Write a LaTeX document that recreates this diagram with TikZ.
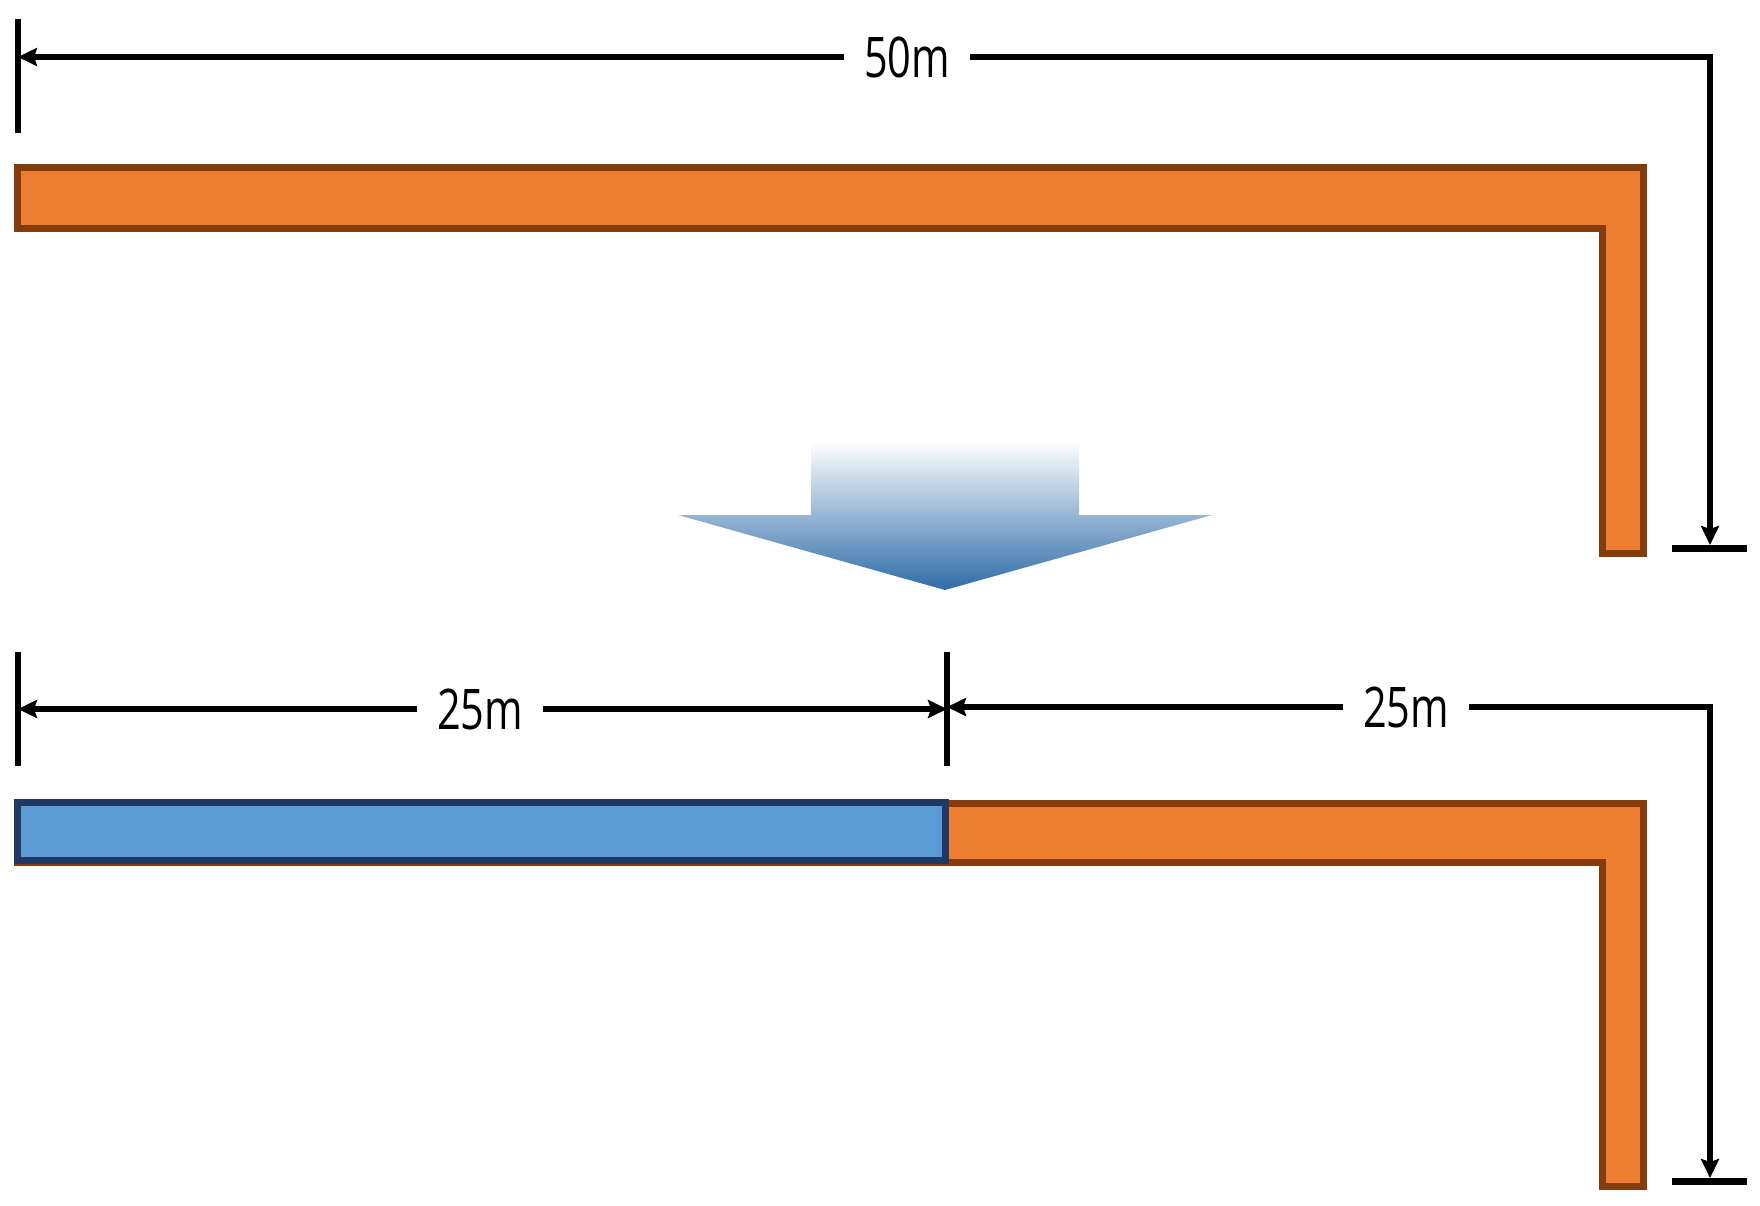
\documentclass[tikz,border=0pt]{standalone}
\usepackage{fontspec}
\newfontfamily\lblfont[FakeStretch=0.74]{Open Sans}
\usetikzlibrary{arrows.meta}
\definecolor{orfill}{RGB}{237,125,49}
\definecolor{ordraw}{RGB}{132,60,12}
\definecolor{blfill}{RGB}{91,155,213}
\definecolor{bldraw}{RGB}{31,56,100}
\definecolor{arrblue}{RGB}{46,108,168}
\tikzset{
  dim/.style={line width=6.5pt, draw=black},
  tipend/.style={-{Stealth[length=19pt,width=18pt,inset=3pt]}},
  tickline/.style={line width=6pt, draw=black},
  lbl/.style={font=\lblfont\fontsize{56}{60}\selectfont, inner xsep=20pt, inner ysep=0pt},
  orbar/.style={fill=orfill, draw=ordraw, line width=7pt, line join=miter},
  blbar/.style={fill=blfill, draw=bldraw, line width=7pt, line join=miter},
}
\begin{document}
\begin{tikzpicture}[x=1pt,y=-1pt]
\useasboundingbox (0,0) rectangle (1760,1206);

% ---------- top part ----------
\draw[orbar] (17.5,167.5) -- (1643.5,167.5) -- (1643.5,553.5) -- (1602.5,553.5)
   -- (1602.5,228.5) -- (17.5,228.5) -- cycle;

\coordinate (tA1) at (18,19);
\coordinate (tA2) at (18,133);
\draw[tickline] (tA1) -- (tA2);
\node[lbl] (l50) at (907,57) {50m};
\coordinate (a50L) at (18,57);
\coordinate (a50C) at (1710,57);
\coordinate (a50E) at (1710,545);
\draw[dim,tipend] (l50.west) -- (a50L);
\draw[dim,tipend] (l50.east) -- (a50C) -- (a50E);
\coordinate (bA1) at (1672,548.5);
\coordinate (bA2) at (1747,548.5);
\draw[tickline,line width=7pt] (bA1) -- (bA2);

% ---------- transition arrow ----------
\shade[top color=white, bottom color=arrblue]
  (811,441) -- (1079,441) -- (1079,515) -- (1212,515) -- (945,590)
  -- (678,515) -- (811,515) -- cycle;

% ---------- bottom part ----------
\draw[orbar] (17.5,803.5) -- (1643.5,803.5) -- (1643.5,1186.5) -- (1602.5,1186.5)
   -- (1602.5,862) -- (17.5,862) -- cycle;
\draw[blbar] (17.5,802.5) rectangle (945.5,860.5);

\coordinate (tB1) at (18,652);
\coordinate (tB2) at (18,766);
\coordinate (tC1) at (947,652);
\coordinate (tC2) at (947,766);
\draw[tickline] (tB1) -- (tB2);
\draw[tickline] (tC1) -- (tC2);

\node[lbl] (l25a) at (480,709) {25m};
\coordinate (a25aL) at (18,709);
\coordinate (a25aR) at (947,709);
\draw[dim,tipend] (l25a.west) -- (a25aL);
\draw[dim,tipend] (l25a.east) -- (a25aR);

\node[lbl] (l25b) at (1406,707) {25m};
\coordinate (a25bL) at (947,707);
\coordinate (a25bC) at (1710,707);
\coordinate (a25bE) at (1710,1178);
\draw[dim,tipend] (l25b.west) -- (a25bL);
\draw[dim,tipend] (l25b.east) -- (a25bC) -- (a25bE);
\coordinate (bB1) at (1672,1181);
\coordinate (bB2) at (1747,1181);
\draw[tickline,line width=7pt] (bB1) -- (bB2);
\end{tikzpicture}
\end{document}
